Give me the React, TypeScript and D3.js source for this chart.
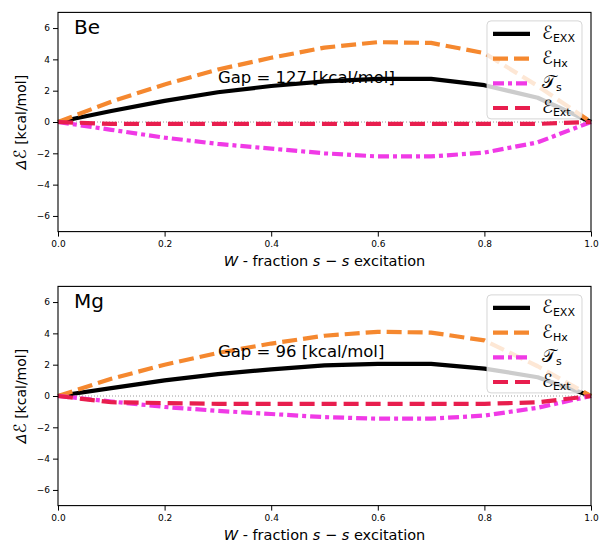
import React, { useEffect, useRef } from 'react';
import * as d3 from 'd3';

// fraction of s-s excitation
const weights = [0, 0.1, 0.2, 0.3, 0.4, 0.5, 0.6, 0.7, 0.8, 0.9, 1.0];

// Be
const beExx = [0, 0.7, 1.35, 1.9, 2.3, 2.6, 2.75, 2.75, 2.35, 1.55, 0];
const beHx = [0, 1.3, 2.4, 3.35, 4.1, 4.75, 5.1, 5.05, 4.4, 2.3, 0];
const beTs = [0, -0.5, -1.0, -1.4, -1.7, -2.0, -2.2, -2.2, -1.95, -1.3, 0];
const beExt = [0, -0.12, -0.12, -0.12, -0.12, -0.12, -0.12, -0.12, -0.12, -0.12, 0];

// Mg
const mgExx = [0, 0.5, 1.0, 1.4, 1.7, 1.95, 2.05, 2.05, 1.75, 1.2, 0];
const mgHx = [0, 1.1, 2.0, 2.75, 3.35, 3.85, 4.1, 4.05, 3.55, 1.9, 0];
const mgTs = [0, -0.35, -0.7, -0.95, -1.15, -1.35, -1.45, -1.45, -1.25, -0.75, 0];
const mgExt = [0, -0.4, -0.45, -0.5, -0.5, -0.5, -0.5, -0.5, -0.5, -0.4, 0];

const xTicks = [0, 0.2, 0.4, 0.6, 0.8, 1.0];
const yTicks = [-6, -4, -2, 0, 2, 4, 6];

const seriesStyle = [
  { key: 'exx', sym: 'ℰ', sub: 'EXX', color: '#000000', dash: null },
  { key: 'hx', sym: 'ℰ', sub: 'Hx', color: '#f5882f', dash: '15,6' },
  { key: 'ts', sym: '𝒯', sub: 's', color: '#f03ae6', dash: '11,4,4,4' },
  { key: 'ext', sym: 'ℰ', sub: 'Ext', color: '#e81e4e', dash: '15,7' },
];

const panels = [
  { atom: 'Be', gap: 'Gap = 127 [kcal/mol]', exx: beExx, hx: beHx, ts: beTs, ext: beExt, top: 12.4 },
  { atom: 'Mg', gap: 'Gap = 96 [kcal/mol]', exx: mgExx, hx: mgHx, ts: mgTs, ext: mgExt, top: 286.4 },
];

const FONT = 'DejaVu Sans, sans-serif';

export default function App() {
  const svgRef = useRef(null);

  useEffect(() => {
    document.body.style.margin = '0';
    const svg = d3.select(svgRef.current);
    svg.selectAll('*').remove();

    const left = 58, right = 591, h = 219.2;

    panels.forEach((p) => {
      const x = d3.scaleLinear().domain([0, 1]).range([left, right]);
      const y = d3.scaleLinear().domain([-7, 7]).range([p.top + h, p.top]);
      const g = svg.append('g');

      // zero line
      g.append('line')
        .attr('x1', x(0)).attr('x2', x(1))
        .attr('y1', y(0)).attr('y2', y(0))
        .attr('stroke', '#9a9a9a').attr('stroke-width', 1)
        .attr('stroke-dasharray', '1,2');

      const line = d3.line<number>()
        .x((d, i) => x(weights[i]))
        .y((d) => y(d));

      seriesStyle.forEach((s) => {
        g.append('path')
          .attr('d', line(p[s.key]))
          .attr('fill', 'none')
          .attr('stroke', s.color)
          .attr('stroke-width', 4.2)
          .attr('stroke-dasharray', s.dash)
          .attr('stroke-linejoin', 'round');
      });

      // frame
      g.append('rect')
        .attr('x', left).attr('y', p.top)
        .attr('width', right - left).attr('height', h)
        .attr('fill', 'none').attr('stroke', '#000').attr('stroke-width', 1.1);

      // axes
      const xAxis = g.append('g')
        .attr('transform', `translate(0,${p.top + h})`)
        .call(d3.axisBottom(x).tickValues(xTicks).tickFormat(d3.format('.1f')).tickSize(5).tickSizeOuter(0));
      const yAxis = g.append('g')
        .attr('transform', `translate(${left},0)`)
        .call(d3.axisLeft(y).tickValues(yTicks).tickFormat((d) => (d < 0 ? '\u2212' + Math.abs(d) : String(d))).tickSize(5).tickSizeOuter(0));
      [xAxis, yAxis].forEach((a) => {
        a.select('.domain').remove();
        a.selectAll('text').attr('font-family', FONT).attr('font-size', 9).attr('fill', '#000');
        a.selectAll('line').attr('stroke', '#000').attr('stroke-width', 1);
      });
      xAxis.selectAll('text').attr('dy', '0.85em');

      // x label
      const xl = g.append('text')
        .attr('x', (left + right) / 2).attr('y', p.top + h + 34)
        .attr('text-anchor', 'middle')
        .attr('font-family', FONT).attr('font-size', 14.5);
      xl.append('tspan').attr('font-style', 'italic').text('W');
      xl.append('tspan').text(' - fraction ');
      xl.append('tspan').attr('font-style', 'italic').text('s');
      xl.append('tspan').text(' \u2212 ');
      xl.append('tspan').attr('font-style', 'italic').text('s');
      xl.append('tspan').text(' excitation');

      // y label
      const yl = g.append('text')
        .attr('transform', `translate(26,${p.top + h / 2}) rotate(-90)`)
        .attr('text-anchor', 'middle')
        .attr('font-family', FONT).attr('font-size', 14);
      yl.append('tspan').attr('font-style', 'italic').text('Δ');
      yl.append('tspan').attr('font-size', 17).text('ℰ');
      yl.append('tspan').text(' [kcal/mol]');

      // atom label
      g.append('text')
        .attr('x', x(0.03)).attr('y', p.top + 22)
        .attr('font-family', FONT).attr('font-size', 20)
        .text(p.atom);

      // gap annotation
      g.append('text')
        .attr('x', x(0.3)).attr('y', y(2.5))
        .attr('font-family', FONT).attr('font-size', 16.5)
        .text(p.gap);

      // legend
      const lg = g.append('g').attr('transform', `translate(487,${p.top + 8.5})`);
      lg.append('rect')
        .attr('width', 95).attr('height', 98).attr('rx', 4)
        .attr('fill', '#fff').attr('fill-opacity', 0.8)
        .attr('stroke', '#cccccc').attr('stroke-opacity', 0.8);
      seriesStyle.forEach((s, i) => {
        const cy = 13 + i * 24.7;
        lg.append('line')
          .attr('x1', 6).attr('x2', 43).attr('y1', cy).attr('y2', cy)
          .attr('stroke', s.color).attr('stroke-width', 4.2)
          .attr('stroke-dasharray', s.dash);
        const t = lg.append('text')
          .attr('x', 55).attr('y', cy + 5)
          .attr('font-family', FONT).attr('font-size', 18);
        t.append('tspan').text(s.sym);
        t.append('tspan').attr('font-size', 11).attr('dy', 3).text(s.sub);
      });
    });
  }, []);

  return <svg ref={svgRef} width={607} height={542} style={{ display: 'block', background: '#fff' }} />;
}
